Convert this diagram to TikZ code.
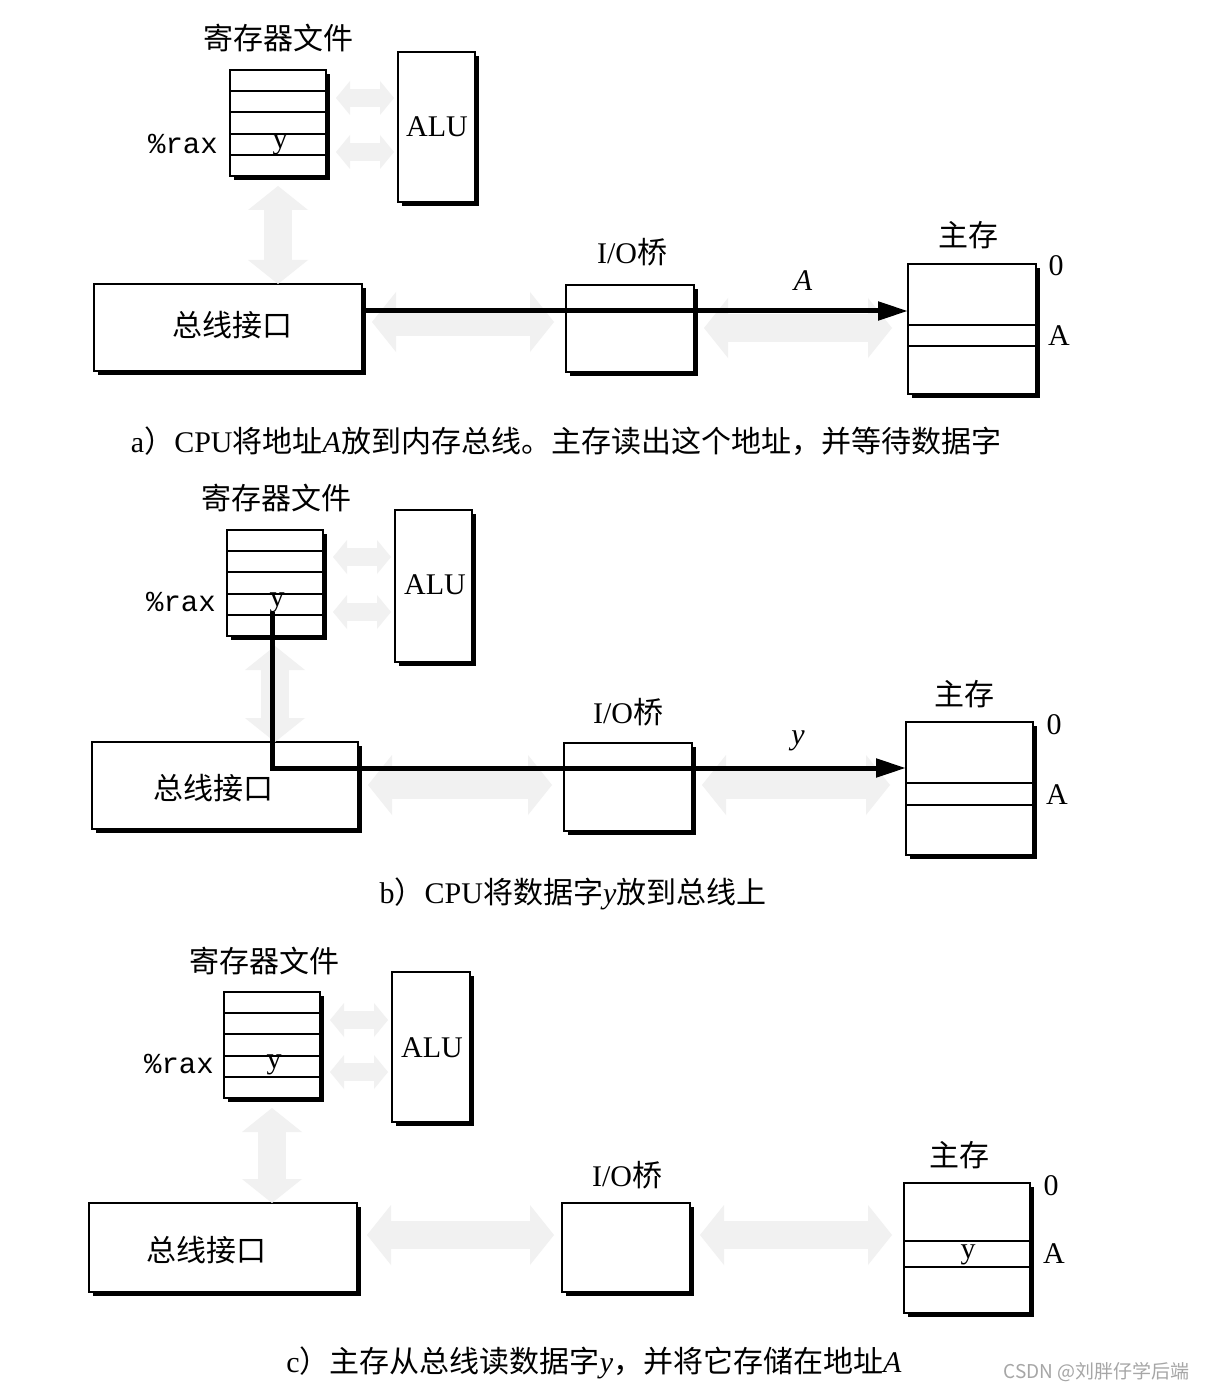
\documentclass[tikz,border=0pt]{standalone}
\usepackage{fontspec}
\setmainfont{Liberation Serif}
\setmonofont{Liberation Mono}
\newfontfamily\cjk{Noto Sans CJK SC}
\usetikzlibrary{arrows.meta,shadows,calc}
\tikzset{
  box/.style={draw, line width=1pt, fill=white, inner sep=0pt, outer sep=0pt, anchor=north west,
    drop shadow={shadow xshift=2pt, shadow yshift=-2pt, fill=black, opacity=1}},
  lab/.style={font=\fontsize{15}{18}\selectfont\cjk, inner sep=0pt},
  rom/.style={font=\fontsize{15}{18}\selectfont, inner sep=0pt},
  ita/.style={font=\fontsize{15}{18}\selectfont\itshape, inner sep=0pt},
  mono/.style={font=\fontsize{14.5}{18}\selectfont\ttfamily, inner sep=0pt},
  captxt/.style={font=\fontsize{15}{18}\selectfont, inner sep=0pt},
  bus/.style={line width=2.5pt, -{Triangle[length=15pt,width=9pt]}},
  ghost/.style={line width=14pt, draw=gray!11,
    {Triangle[length=12pt,width=30pt,line width=0pt]}-{Triangle[length=12pt,width=30pt,line width=0pt]}},
  ghosts/.style={line width=9pt, draw=gray!11,
    {Triangle[length=7pt,width=17pt,line width=0pt]}-{Triangle[length=7pt,width=17pt,line width=0pt]}},
  row/.style={line width=1pt}
}
\begin{document}
\begin{tikzpicture}[x=0.5pt,y=-0.5pt]
\path[use as bounding box, fill=white] (0,0) rectangle (1204,1390);

% ================= Panel a =================
\node[box, minimum width=48pt, minimum height=53pt] (ra) at (230,70) {};
\node[box, minimum width=38.5pt, minimum height=75pt] (alua) at (398,52) {};
\node[box, minimum width=134pt, minimum height=43.5pt] (bia) at (94,284) {};
\node[box, minimum width=64pt, minimum height=43.5pt] (ioa) at (566,285) {};
\node[box, minimum width=64pt, minimum height=65pt] (mema) at (908,264) {};
\foreach \k in {1,...,4}
  \draw[row] ($(ra.north west)!\k/5!(ra.south west)$) -- ($(ra.north east)!\k/5!(ra.south east)$);
\draw[row] (mema.west |- 0,325) -- (mema.east |- 0,325);
\draw[row] (mema.west |- 0,346) -- (mema.east |- 0,346);

\node[lab] (rfa) at (278,38) {寄存器文件};
\node[mono] (raxa) at (183,144) {\%rax};
\node[rom] (ya) at (280,145) {y};
\node[rom] (alta) at (437,127) {ALU};
\node[lab] (bita) at (232,325) {总线接口};
\node[rom] (iota) at (632,252) {I/O{\cjk 桥}};
\node[lab] (mta) at (968,235) {主存};
\node[rom] (za) at (1056,266) {0};
\node[rom] (aa) at (1059,336) {A};

\draw[ghosts] ([xshift=5pt]ra.east |- 0,98) -- ([xshift=-2pt]alua.west |- 0,98);
\draw[ghosts] ([xshift=5pt]ra.east |- 0,152) -- ([xshift=-2pt]alua.west |- 0,152);
\draw[ghost] ([yshift=-5pt]ra.south) -- (ra.south |- bia.north);
\draw[ghost] ([xshift=5pt]bia.east |- 0,322) -- ([xshift=-6pt]ioa.west |- 0,322);
\draw[ghost] ([xshift=5pt]ioa.east |- 0,328) -- ([xshift=-8pt]mema.west |- 0,328);

\draw[bus] (bia.east |- 0,311) -- (mema.west |- 0,311);
\node[ita] (la) at (803,281) {A};

\node[captxt] (capa) at (566,441) {a{\cjk ）}CPU{\cjk 将地址}\textit{A}{\cjk 放到内存总线。主存读出这个地址，并等待数据字}};

% ================= Panel b =================
\node[box, minimum width=48pt, minimum height=53pt] (rb) at (227,530) {};
\node[box, minimum width=38.5pt, minimum height=76pt] (alub) at (395,510) {};
\node[box, minimum width=133pt, minimum height=43.5pt] (bib) at (92,742) {};
\node[box, minimum width=64pt, minimum height=44pt] (iob) at (564,743) {};
\node[box, minimum width=63.5pt, minimum height=66.5pt] (memb) at (906,722) {};
\foreach \k in {1,...,4}
  \draw[row] ($(rb.north west)!\k/5!(rb.south west)$) -- ($(rb.north east)!\k/5!(rb.south east)$);
\draw[row] (memb.west |- 0,783) -- (memb.east |- 0,783);
\draw[row] (memb.west |- 0,805) -- (memb.east |- 0,805);

\node[lab] (rfb) at (276,498) {寄存器文件};
\node[mono] (raxb) at (181,602) {\%rax};
\node[rom] (yb) at (277,603) {y};
\node[rom] (altb) at (435,585) {ALU};
\node[lab] (bitb) at (213,788) {总线接口};
\node[rom] (iotb) at (628,712) {I/O{\cjk 桥}};
\node[lab] (mtb) at (964,694) {主存};
\node[rom] (zb) at (1054,725) {0};
\node[rom] (ab) at (1057,795) {A};

\draw[ghosts] ([xshift=5pt]rb.east |- 0,557) -- ([xshift=-2pt]alub.west |- 0,557);
\draw[ghosts] ([xshift=5pt]rb.east |- 0,612) -- ([xshift=-2pt]alub.west |- 0,612);
\draw[ghost] ([yshift=-5pt]rb.south) -- (rb.south |- bib.north);
\draw[ghost] ([xshift=5pt]bib.east |- 0,785) -- ([xshift=-6pt]iob.west |- 0,785);
\draw[ghost] ([xshift=5pt]iob.east |- 0,785) -- ([xshift=-8pt]memb.west |- 0,785);

\coordinate (tb) at (272,612);
\draw[bus] (tb) |- (memb.west |- 0,768);
\node[ita] (lb) at (798,741) {y};

\node[captxt] (capb) at (573,894) {b{\cjk ）}CPU{\cjk 将数据字}\textit{y}{\cjk 放到总线上}};

% ================= Panel c =================
\node[box, minimum width=48pt, minimum height=53pt] (rc) at (224,992) {};
\node[box, minimum width=39pt, minimum height=75pt] (aluc) at (392,972) {};
\node[box, minimum width=134pt, minimum height=44.5pt] (bic) at (89,1203) {};
\node[box, minimum width=64pt, minimum height=44.5pt] (ioc) at (562,1203) {};
\node[box, minimum width=63pt, minimum height=65pt] (memc) at (904,1183) {};
\foreach \k in {1,...,4}
  \draw[row] ($(rc.north west)!\k/5!(rc.south west)$) -- ($(rc.north east)!\k/5!(rc.south east)$);
\draw[row] (memc.west |- 0,1241) -- (memc.east |- 0,1241);
\draw[row] (memc.west |- 0,1267) -- (memc.east |- 0,1267);

\node[lab] (rfc) at (264,961) {寄存器文件};
\node[mono] (raxc) at (179,1064) {\%rax};
\node[rom] (yc) at (274,1065) {y};
\node[rom] (altc) at (432,1048) {ALU};
\node[lab] (bitc) at (206,1250) {总线接口};
\node[rom] (iotc) at (627,1175) {I/O{\cjk 桥}};
\node[lab] (mtc) at (959,1155) {主存};
\node[rom] (zc) at (1051,1186) {0};
\node[rom] (ac) at (1054,1254) {A};
\node[rom] (ymc) at (968,1255) {y};

\draw[ghosts] ([xshift=5pt]rc.east |- 0,1020) -- ([xshift=-2pt]aluc.west |- 0,1020);
\draw[ghosts] ([xshift=5pt]rc.east |- 0,1072) -- ([xshift=-2pt]aluc.west |- 0,1072);
\draw[ghost] ([yshift=-5pt]rc.south) -- (rc.south |- bic.north);
\draw[ghost] ([xshift=5pt]bic.east |- 0,1235) -- ([xshift=-4pt]ioc.west |- 0,1235);
\draw[ghost] ([xshift=5pt]ioc.east |- 0,1235) -- ([xshift=-6pt]memc.west |- 0,1235);

\node[captxt] (capc) at (594,1363) {c{\cjk ）主存从总线读数据字}\textit{y}{\cjk ，并将它存储在地址}\textit{A}};

\node[font=\fontsize{9.5}{12}\selectfont\cjk, text=gray!70, inner sep=0pt, anchor=east] (wm) at (1190,1372) {CSDN @刘胖仔学后端};
\end{tikzpicture}
\end{document}
